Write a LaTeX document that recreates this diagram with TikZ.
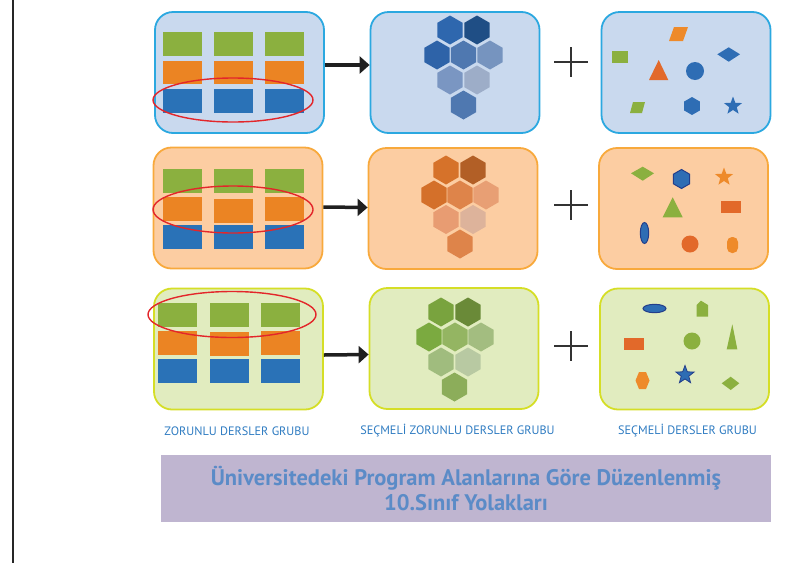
\documentclass[tikz,border=0pt]{standalone}
\usepackage{fontspec}
\setmainfont{PT Sans}
\newfontfamily\labelfont{PT Sans}
\usetikzlibrary{arrows.meta,shapes.geometric}
\definecolor{panelblue}{HTML}{C9D9EE}
\definecolor{rimblue}{HTML}{2BA8E0}
\definecolor{panelorange}{HTML}{FCCDA2}
\definecolor{rimorange}{HTML}{F8A93C}
\definecolor{panelgreen}{HTML}{E1ECBF}
\definecolor{rimgreen}{HTML}{D5DE26}
\definecolor{coursegreen}{HTML}{8BB03F}
\definecolor{courseorange}{HTML}{EB8423}
\definecolor{courseblue}{HTML}{2A72B7}
\definecolor{ringred}{HTML}{E3262A}
\definecolor{labelblue}{HTML}{2E7BC1}
\definecolor{titlebg}{HTML}{BFB5D0}
\definecolor{titleblue}{HTML}{5B8BC7}
\definecolor{darkrim}{HTML}{233E8B}
\definecolor{shapeblue}{HTML}{2E6DB4}
\definecolor{shapeorange}{HTML}{EE8A2A}
\definecolor{shaperust}{HTML}{E2692A}
% honeycomb shades
\definecolor{hb1}{HTML}{2E67AE}\definecolor{hb2}{HTML}{1F4E85}\definecolor{hb3}{HTML}{2E63A8}
\definecolor{hb4}{HTML}{4F78B0}\definecolor{hb5}{HTML}{7694BF}\definecolor{hb6}{HTML}{7A96C2}
\definecolor{hb7}{HTML}{9DADC8}
\definecolor{ho1}{HTML}{D6722A}\definecolor{ho2}{HTML}{B25F26}\definecolor{ho3}{HTML}{D4702A}
\definecolor{ho4}{HTML}{DE844A}\definecolor{ho5}{HTML}{E89F74}\definecolor{ho6}{HTML}{E89C72}
\definecolor{ho7}{HTML}{DDB39B}
\definecolor{hg1}{HTML}{79A33E}\definecolor{hg2}{HTML}{6A8A38}\definecolor{hg3}{HTML}{7BAA40}
\definecolor{hg4}{HTML}{94B562}\definecolor{hg5}{HTML}{A3BD80}\definecolor{hg6}{HTML}{A0BC7E}
\definecolor{hg7}{HTML}{B8C9A2}\definecolor{hg8}{HTML}{8CAD5A}
\def\hexcell(#1,#2)#3{\fill[shift={(#1,#2)}, #3] (30:14.5) -- (90:14.5) -- (150:14.5) -- (210:14.5) -- (270:14.5) -- (330:14.5) -- cycle;}
\def\plussign(#1,#2){\draw[plusline] (#1-17,#2) -- (#1+17,#2); \draw[plusline] (#1,#2-15) -- (#1,#2+15);}

\begin{document}
\begin{tikzpicture}[x=1pt, y=-1pt,
	panel/.style={draw, line width=1.8pt, rounded corners=18pt, minimum width=169pt, minimum height=121pt, inner sep=0pt},
	flowarrow/.style={line width=3.5pt, color=black!88, -{Triangle[length=10pt,width=17pt]}},
	plusline/.style={line width=1.3pt, color=black!80},
	ring/.style={draw=ringred, line width=1.4pt},
	grouplabel/.style={font=\labelfont\fontsize{12.2}{14}\selectfont, text=labelblue},
	starmark/.style={star, star points=5, star point ratio=2.4, minimum size=19pt, inner sep=0pt}]
	%%%%% START %%%%%
	\useasboundingbox (0,0) rectangle (794,563);
	\draw[line width=2pt, color=black!85] (13,0) -- (13,563);
	
	% ---- first row (blue)
	\node[panel, fill=panelblue, draw=rimblue] (pa1) at (239.5,72.5) {};
	\node[panel, fill=panelblue, draw=rimblue] (pb1) at (455,72.5) {};
	\node[panel, fill=panelblue, draw=rimblue] (pc1) at (686,72.5) {};
	
	\fill[coursegreen] (163,32) rectangle (202,56);
	\fill[coursegreen] (214,32) rectangle (253,56);
	\fill[coursegreen] (265,32) rectangle (304,56);
	\fill[courseorange] (163,61) rectangle (202,84);
	\fill[courseorange] (214,61) rectangle (253,84);
	\fill[courseorange] (265,61) rectangle (304,84);
	\fill[courseblue] (163,89) rectangle (202,113);
	\fill[courseblue] (214,89) rectangle (253,113);
	\fill[courseblue] (265,89) rectangle (304,113);
	\draw[ring] (233,100) ellipse [x radius=80, y radius=22];
	
	\hexcell(450,30){hb1}
	\hexcell(477,30){hb2}
	\hexcell(437,55){hb3}
	\hexcell(463.5,55){hb4}
	\hexcell(490,55){hb5}
	\hexcell(450,80){hb6}
	\hexcell(477,80){hb7}
	\hexcell(463.5,105){hb4}
	
	\fill[shapeorange] (674,27) -- (688,27) -- (683,41) -- (669,41) -- cycle;
	\fill[coursegreen] (612,51) rectangle (628,63);
	\fill[color=shaperust] (658.7,60) -- (668.3,80) -- (649,80) -- cycle;
	\fill[shapeblue] (695,71) circle (9);
	\fill[shapeblue] (717.3,54.3) -- (728.7,47.3) -- (740,54.3) -- (728.7,61.7) -- cycle;
	\fill[coursegreen] (633,102) -- (645,102) -- (642,113) -- (630,113) -- cycle;
	\hexcell(692,106){shapeblue, scale=0.62}
	\node[starmark, fill=shapeblue] (stara) at (733,106) {};
	
	% ---- second row (orange)
	\node[panel, fill=panelorange, draw=rimorange] (pa2) at (238,208) {};
	\node[panel, fill=panelorange, draw=rimorange] (pb2) at (453,208.5) {};
	\node[panel, fill=panelorange, draw=rimorange] (pc2) at (683.5,208.5) {};
	
	\fill[coursegreen] (163,169) rectangle (202,193);
	\fill[coursegreen] (214,169) rectangle (253,193);
	\fill[coursegreen] (265,169) rectangle (304,193);
	\fill[courseorange] (163,197) rectangle (202,221);
	\fill[courseorange] (214,199) rectangle (253,223);
	\fill[courseorange] (265,197) rectangle (304,221);
	\fill[courseblue] (163,225) rectangle (202,249);
	\fill[courseblue] (214,225) rectangle (253,249);
	\fill[courseblue] (265,225) rectangle (304,249);
	\draw[ring] (233,209.5) ellipse [x radius=80, y radius=23.5];
	
	\hexcell(446,170){ho1}
	\hexcell(473,170){ho2}
	\hexcell(434,195){ho3}
	\hexcell(460,195){ho4}
	\hexcell(486,195){ho5}
	\hexcell(446,219.5){ho6}
	\hexcell(473,219.5){ho7}
	\hexcell(460,244){ho4}
	
	\fill[coursegreen] (631,173.3) -- (642.7,166.7) -- (654,173.3) -- (642.7,180.7) -- cycle;
	\draw[draw=darkrim, fill=shapeblue, line width=1pt, shift={(681.5,179)}] (30:9.5) -- (90:9.5) -- (150:9.5) -- (210:9.5) -- (270:9.5) -- (330:9.5) -- cycle;
	\node[starmark, fill=shapeorange] (starb) at (724,177) {};
	\fill[coursegreen] (672.7,197.3) -- (682.7,217.3) -- (662.7,217.3) -- cycle;
	\fill[color=shaperust] (721,201) rectangle (741,213);
	\draw[draw=darkrim, fill=shapeblue, line width=1pt] (644.5,233) ellipse [x radius=4.2, y radius=10.5];
	\fill[color=shaperust] (690,244) circle (8.5);
	\fill[shapeorange, rounded corners=5pt] (727,237) rectangle (738,253);
	
	% ---- third row (green)
	\node[panel, fill=panelgreen, draw=rimgreen] (pa3) at (238.5,349) {};
	\node[panel, fill=panelgreen, draw=rimgreen] (pb3) at (454,348.5) {};
	\node[panel, fill=panelgreen, draw=rimgreen] (pc3) at (684.5,349) {};
	
	\fill[coursegreen] (158,303) rectangle (197,327);
	\fill[coursegreen] (210,303) rectangle (249,327);
	\fill[coursegreen] (261,303) rectangle (300,327);
	\fill[courseorange] (158,331) rectangle (197,355);
	\fill[courseorange] (210,332) rectangle (249,356);
	\fill[courseorange] (261,331) rectangle (300,355);
	\fill[courseblue] (158,359) rectangle (197,383);
	\fill[courseblue] (210,359) rectangle (249,383);
	\fill[courseblue] (261,359) rectangle (300,383);
	\draw[ring] (232,314.5) ellipse [x radius=84, y radius=23];
	
	\hexcell(441,312){hg1}
	\hexcell(468,312){hg2}
	\hexcell(429,337){hg3}
	\hexcell(455,337){hg4}
	\hexcell(481,337){hg5}
	\hexcell(441,362){hg6}
	\hexcell(468,362){hg7}
	\hexcell(454.5,387){hg8}
	
	\draw[draw=darkrim, fill=shapeblue, line width=1pt] (654.5,308.5) ellipse [x radius=11.5, y radius=4.2];
	\fill[coursegreen] (696.5,305) -- (701,300.7) -- (708,305) -- (708,316.7) -- (696.5,316.7) -- cycle;
	\fill[color=shaperust] (624,338) rectangle (644,350);
	\fill[coursegreen] (692,341) circle (8.5);
	\fill[coursegreen] (732.3,324.3) -- (737.3,349.3) -- (726.7,349.3) -- cycle;
	\fill[shapeorange] (639,372) -- (646,372) -- (649.5,380.5) -- (646,389) -- (639,389) -- (635.5,380.5) -- cycle;
	\node[starmark, fill=shapeblue, draw=darkrim, line width=0.8pt] (starc) at (685,375) {};
	\fill[coursegreen] (721.7,383.3) -- (730.7,376.7) -- (739.3,383.3) -- (730.7,390) -- cycle;
	
	% ---- arrows and plus signs
	\draw[flowarrow] ([yshift=7.5pt]pa1.east) -- ([yshift=7.5pt]pb1.west);
	\draw[flowarrow] ([yshift=1pt]pa2.east) -- ([yshift=1pt]pb2.west);
	\draw[flowarrow] ([yshift=-6pt]pa3.east) -- ([yshift=-6pt]pb3.west);
	\plussign(571,62)
	\plussign(571,205)
	\plussign(571,346)
	
	% ---- captions
	\node[grouplabel] (laba) at (237,431) {ZORUNLU DERSLER GRUBU};
	\node[grouplabel] (labb) at (457.5,431) {SEÇMELİ ZORUNLU DERSLER GRUBU};
	\node[grouplabel] (labc) at (687.5,431) {SEÇMELİ DERSLER GRUBU};
	
	\node[fill=titlebg, minimum width=610pt, minimum height=67pt, align=center, text=titleblue, font=\bfseries\fontsize{22.5}{25.5}\selectfont] (title) at (466,488.5) {Üniversitedeki Program Alanlarına Göre Düzenlenmiş\\10.Sınıf Yolakları};
	%%%%% END %%%%%
\end{tikzpicture}
\end{document}
